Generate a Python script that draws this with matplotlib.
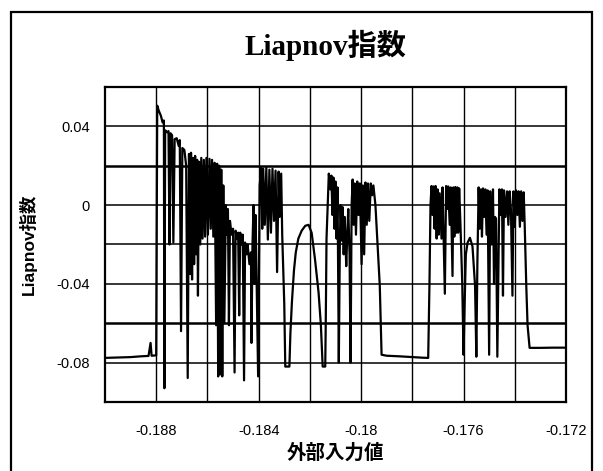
import numpy as np
import matplotlib.pyplot as plt
from matplotlib.patches import Rectangle

# Liapnov exponent vs external input
x_pts = [
    -0.19000, -0.18950, -0.18900, -0.18860, -0.18830, -0.18822, -0.18818, -0.18800,
    -0.18796, -0.18790, -0.18782, -0.18775, -0.18770, -0.18768, -0.18765, -0.18758,
    -0.18752, -0.18748, -0.18744, -0.18738, -0.18733, -0.18728, -0.18720, -0.18712,
    -0.18708, -0.18703, -0.18698, -0.18690, -0.18683, -0.18677, -0.18672, -0.18668,
    -0.18664, -0.18660, -0.18656, -0.18652, -0.18648, -0.18644, -0.18640, -0.18637,
    -0.18633, -0.18628, -0.18624, -0.18619, -0.18614, -0.18609, -0.18604, -0.18598,
    -0.18592, -0.18587, -0.18582, -0.18577, -0.18572, -0.18566, -0.18562, -0.18558,
    -0.18554, -0.18550, -0.18546, -0.18542, -0.18538, -0.18534, -0.18528, -0.18524,
    -0.18520, -0.18516, -0.18512, -0.18506, -0.18500, -0.18494, -0.18490, -0.18485,
    -0.18480, -0.18476, -0.18472, -0.18466, -0.18462, -0.18457, -0.18453, -0.18447,
    -0.18443, -0.18436, -0.18430, -0.18428, -0.18424, -0.18420, -0.18416, -0.18412,
    -0.18402, -0.18396, -0.18390, -0.18386, -0.18382, -0.18376, -0.18370, -0.18364,
    -0.18358, -0.18352, -0.18346, -0.18340, -0.18334, -0.18328, -0.18322, -0.18318,
    -0.18312, -0.18308, -0.18300, -0.18296, -0.18280, -0.18276, -0.18270, -0.18262,
    -0.18255, -0.18245, -0.18232, -0.18218, -0.18205, -0.18193, -0.18180, -0.18166,
    -0.18157, -0.18150, -0.18140, -0.18138, -0.18135, -0.18126, -0.18120, -0.18116,
    -0.18112, -0.18108, -0.18104, -0.18100, -0.18096, -0.18092, -0.18087, -0.18083,
    -0.18080, -0.18076, -0.18072, -0.18068, -0.18064, -0.18058, -0.18054, -0.18050,
    -0.18045, -0.18041, -0.18037, -0.18033, -0.18029, -0.18025, -0.18020, -0.18015,
    -0.18010, -0.18005, -0.17998, -0.17993, -0.17988, -0.17983, -0.17978, -0.17973,
    -0.17968, -0.17962, -0.17957, -0.17952, -0.17944, -0.17934, -0.17927, -0.17923,
    -0.17920, -0.17900, -0.17850, -0.17800, -0.17760, -0.17738, -0.17733, -0.17729,
    -0.17725, -0.17721, -0.17717, -0.17713, -0.17709, -0.17705, -0.17701, -0.17697,
    -0.17693, -0.17686, -0.17682, -0.17678, -0.17673, -0.17668, -0.17664, -0.17660,
    -0.17654, -0.17650, -0.17643, -0.17640, -0.17636, -0.17632, -0.17628, -0.17624,
    -0.17621, -0.17617, -0.17612, -0.17605, -0.17600, -0.17596, -0.17591, -0.17584,
    -0.17575, -0.17565, -0.17555, -0.17550, -0.17546, -0.17541, -0.17537, -0.17532,
    -0.17528, -0.17524, -0.17519, -0.17515, -0.17510, -0.17506, -0.17500, -0.17496,
    -0.17490, -0.17485, -0.17481, -0.17477, -0.17473, -0.17468, -0.17460, -0.17455,
    -0.17450, -0.17446, -0.17442, -0.17436, -0.17430, -0.17425, -0.17420, -0.17415,
    -0.17409, -0.17405, -0.17400, -0.17395, -0.17390, -0.17385, -0.17380, -0.17375,
    -0.17370, -0.17365, -0.17361, -0.17355, -0.17350, -0.17342, -0.17300, -0.17250,
    -0.17200,
]
y_pts = [
    -0.0776, -0.0774, -0.0772, -0.0768, -0.0766, -0.0700, -0.0765, -0.0763,
    0.0505, 0.0480, 0.0455, 0.0420, 0.0430, -0.0930, 0.0380, 0.0370,
    0.0376, -0.0200, 0.0365, 0.0355, -0.0190, 0.0335, 0.0340, 0.0300,
    0.0330, -0.0640, 0.0290, 0.0280, 0.0200, -0.0878, 0.0260, -0.0350,
    0.0266, -0.0378, 0.0240, -0.0300, 0.0250, -0.0250, 0.0230, -0.0460,
    0.0220, -0.0200, 0.0240, -0.0170, 0.0230, -0.0160, 0.0240, -0.0150,
    0.0235, -0.0120, 0.0230, -0.0160, 0.0215, -0.0610, 0.0210, -0.0870,
    0.0200, -0.0860, 0.0180, -0.0870, 0.0100, -0.0600, 0.0000, -0.0150,
    -0.0020, -0.0610, -0.0080, -0.0150, -0.0120, -0.0850, -0.0130, -0.0170,
    -0.0140, -0.0560, -0.0140, -0.0200, -0.0150, -0.0890, -0.0190, -0.0250,
    -0.0200, -0.0300, -0.0240, -0.0700, -0.0200, 0.0000, -0.0400, -0.0050,
    -0.0870, 0.0100, 0.0190, -0.0120, 0.0185, -0.0100, 0.0190, -0.0175,
    0.0180, -0.0140, 0.0185, -0.0080, 0.0175, -0.0340, 0.0170, -0.0060,
    0.0160, -0.0150, -0.0500, -0.0820, -0.0820, -0.0650, -0.0490, -0.0330,
    -0.0240, -0.0170, -0.0130, -0.0105, -0.0100, -0.0141, -0.0275, -0.0444,
    -0.0610, -0.0820, -0.0820, -0.0600, -0.0170, 0.0160, 0.0080, 0.0150,
    -0.0050, 0.0140, -0.0120, 0.0120, -0.0170, 0.0090, -0.0800, -0.0200,
    0.0000, -0.0180, -0.0010, -0.0250, -0.0060, -0.0310, -0.0150, -0.0020,
    -0.0250, -0.0800, 0.0000, 0.0130, -0.0100, 0.0110, -0.0150, 0.0120,
    -0.0050, 0.0110, -0.0300, 0.0100, -0.0250, 0.0115, -0.0100, 0.0110,
    -0.0080, 0.0110, 0.0050, 0.0100, 0.0000, -0.0240, -0.0410, -0.0610,
    -0.0760, -0.0765, -0.0768, -0.0772, -0.0775, -0.0776, -0.0400, 0.0000,
    0.0097, -0.0050, 0.0095, -0.0120, 0.0097, -0.0170, 0.0080, -0.0150,
    0.0060, -0.0170, 0.0090, -0.0150, -0.0450, 0.0097, -0.0020, 0.0095,
    -0.0100, 0.0090, -0.0360, 0.0090, -0.0160, 0.0092, -0.0140, 0.0090,
    -0.0140, 0.0085, -0.0100, -0.0400, -0.0760, -0.0520, -0.0250, -0.0190,
    -0.0166, -0.0210, -0.0410, -0.0770, -0.0300, 0.0090, -0.0120, 0.0080,
    -0.0160, 0.0085, -0.0060, 0.0080, -0.0150, 0.0075, -0.0760, 0.0070,
    -0.0200, 0.0080, -0.0400, -0.0060, -0.0070, -0.0770, 0.0080, -0.0050,
    0.0080, -0.0460, 0.0075, -0.0060, 0.0070, -0.0100, 0.0070, -0.0020,
    -0.0460, 0.0070, -0.0110, 0.0075, -0.0050, 0.0070, -0.0110, 0.0070,
    -0.0080, 0.0065, -0.0110, -0.0410, -0.0610, -0.0725, -0.0725, -0.0724,
    -0.0724,
]

x_ticks = [-0.188, -0.184, -0.180, -0.176, -0.172]
x_tick_labels = ['-0.188', '-0.184', '-0.18', '-0.176', '-0.172']
y_ticks = [0.04, 0.0, -0.04, -0.08]
y_tick_labels = ['0.04', '0', '-0.04', '-0.08']
x_grid = [-0.188, -0.186, -0.184, -0.182, -0.180, -0.178, -0.176, -0.174]
y_grid = [0.04, 0.02, 0.0, -0.02, -0.04, -0.06, -0.08]
y_grid_heavy = [0.02, -0.06]

cjk = ['Noto Sans CJK JP', 'DejaVu Sans']
plt.rcParams['font.family'] = ['Liberation Sans', 'Noto Sans CJK JP']

fig = plt.figure(figsize=(6.03, 4.71), dpi=100)
ax = fig.add_axes([0.1741, 0.1465, 0.7645, 0.6688])

# outer frame of the scanned chart
fig.patches.append(Rectangle((0.0182, -0.05), 0.9636, 1.0245, transform=fig.transFigure,
                             fill=False, edgecolor='black', linewidth=1.6))

for gx in x_grid:
    ax.axvline(gx, color='black', lw=1.0, zorder=1)
for gy in y_grid:
    ax.axhline(gy, color='black', lw=1.8 if gy in y_grid_heavy else 1.1, zorder=1)

ax.plot(x_pts, y_pts, color='black', lw=1.6, zorder=3)

ax.set_xlim(-0.190, -0.172)
ax.set_ylim(-0.10, 0.06)
ax.set_xticks(x_ticks)
ax.set_xticklabels(x_tick_labels)
ax.set_yticks(y_ticks)
ax.set_yticklabels(y_tick_labels)
ax.tick_params(length=0, labelsize=10.5)
ax.tick_params(axis='x', pad=16)
ax.tick_params(axis='y', pad=11)
for s in ax.spines.values():
    s.set_linewidth(1.6)

fig.text(0.539, 0.904, 'Liapnov指数', ha='center', va='center', fontsize=21,
         fontweight='bold', family=['Liberation Serif', 'Noto Sans CJK JP'])
ax.set_ylabel('Liapnov指数', fontsize=12.5, fontweight='bold', family=['Liberation Sans', 'Noto Sans CJK JP'],
              labelpad=14)
ax.set_xlabel('外部入力値', fontsize=14, fontweight='bold', family=cjk, labelpad=4)

fig.savefig('out.png', dpi=100)
